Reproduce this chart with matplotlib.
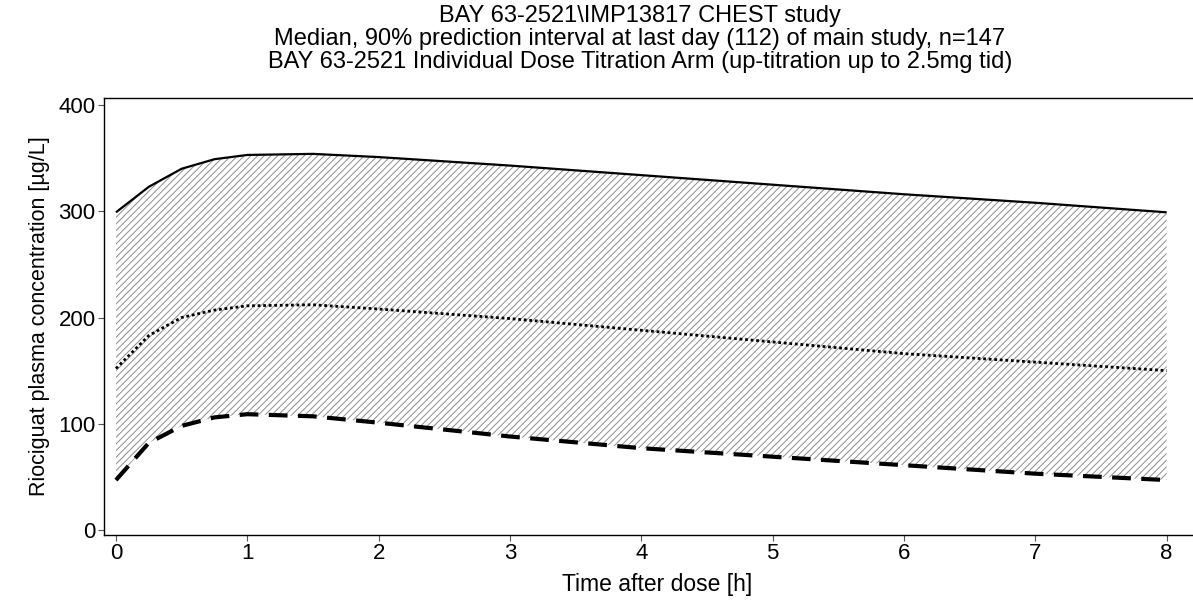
import matplotlib
matplotlib.use('Agg')
import matplotlib.pyplot as plt

plt.rcParams['font.family'] = ['Liberation Sans', 'DejaVu Sans']
plt.rcParams['hatch.linewidth'] = 0.7

# time after dose [h]
time_h = [0, 0.25, 0.5, 0.75, 1, 1.5, 2, 3, 4, 5, 6, 7, 8]
# 95th percentile, median, 5th percentile [ug/L]
upper = [299, 323, 340, 349, 353, 354, 351, 343, 334, 325, 316, 308, 299]
median = [152, 183, 200, 207, 211, 212, 208, 199, 188, 177, 166, 158, 150]
lower = [47, 82, 98, 106, 109, 107, 101, 88, 77, 69, 61, 53, 47]

x_ticks = [0, 1, 2, 3, 4, 5, 6, 7, 8]
y_ticks = [0, 100, 200, 300, 400]

title = ("BAY 63-2521\\IMP13817 CHEST study\n"
         "Median, 90% prediction interval at last day (112) of main study, n=147\n"
         "BAY 63-2521 Individual Dose Titration Arm (up-titration up to 2.5mg tid)")

W, H = 1193, 605
fig = plt.figure(figsize=(W / 100, H / 100), dpi=100)
ax = fig.add_axes([104 / W, (H - 535) / H, (1210 - 104) / W, (535 - 98) / H])

ax.fill_between(time_h, lower, upper, facecolor='none', edgecolor='#8c8c8c',
                linewidth=0, hatch='/////')
ax.plot(time_h, upper, color='black', lw=1.6, solid_capstyle='butt')
ax.plot(time_h, median, color='black', lw=2.0, linestyle=(0, (1, 1)))
ax.plot(time_h, lower, color='black', lw=3.0, linestyle=(0, (4.5, 2.5)))

ax.set_xlim(-0.091, 8.33)
ax.set_ylim(-4.7, 406.6)
ax.set_xticks(x_ticks)
ax.set_yticks(y_ticks)
ax.tick_params(labelsize=16, length=4, width=0.8, color='#555555', pad=2)
ax.spines['right'].set_visible(False)
for s in ['left', 'top', 'bottom']:
    ax.spines[s].set_linewidth(1.0)

ax.set_xlabel('Time after dose [h]', fontsize=16.5, labelpad=6)
ax.set_ylabel('Riociguat plasma concentration [\u00b5g/L]', fontsize=15.5, labelpad=6)
fig.text(640 / W, 1 - 5 / H, title, ha='center', va='top', fontsize=17, linespacing=1.06)

plt.savefig('out.png', dpi=100)
plt.close()
